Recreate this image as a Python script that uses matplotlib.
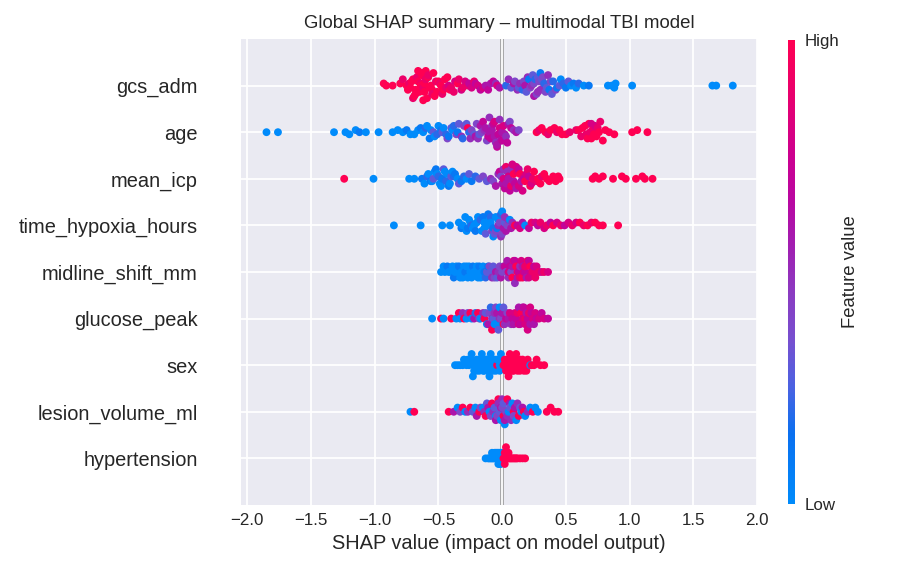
import numpy as np
import matplotlib
matplotlib.use("Agg")
import matplotlib.pyplot as plt
from matplotlib.colors import LinearSegmentedColormap, Normalize

plt.rcParams['font.family'] = ['Liberation Sans', 'DejaVu Sans']

# features top -> bottom
features = ['gcs_adm', 'age', 'mean_icp', 'time_hypoxia_hours', 'midline_shift_mm',
            'glucose_peak', 'sex', 'lesion_volume_ml', 'hypertension']

# (shap value, feature value level 0=low .. 10=high)
gcs_adm = [
    (-0.93, 10), (-0.91, 10), (-0.86, 10), (-0.80, 10), (-0.78, 9),
    (-0.75, 10), (-0.74, 10), (-0.73, 9), (-0.72, 10), (-0.71, 10), (-0.70, 10), (-0.70, 9), (-0.69, 10),
    (-0.68, 10), (-0.68, 10), (-0.67, 9), (-0.66, 10), (-0.66, 10), (-0.65, 10), (-0.64, 9), (-0.64, 10),
    (-0.63, 10), (-0.63, 10), (-0.62, 9), (-0.62, 10), (-0.61, 10), (-0.61, 10), (-0.60, 9), (-0.60, 10),
    (-0.59, 10), (-0.58, 10), (-0.58, 9), (-0.57, 10), (-0.56, 10), (-0.55, 10), (-0.55, 9), (-0.54, 10),
    (-0.53, 10), (-0.52, 9), (-0.51, 10), (-0.50, 10), (-0.49, 9), (-0.48, 10), (-0.47, 9), (-0.46, 10),
    (-0.45, 10), (-0.44, 9), (-0.43, 10), (-0.42, 8), (-0.41, 10), (-0.40, 9), (-0.38, 9), (-0.37, 8),
    (-0.35, 10), (-0.34, 9), (-0.32, 8), (-0.31, 9), (-0.29, 8), (-0.27, 9), (-0.26, 7), (-0.24, 8),
    (-0.22, 9), (-0.21, 7), (-0.19, 8), (-0.17, 7), (-0.15, 8), (-0.13, 6), (-0.11, 7), (-0.09, 6),
    (-0.07, 7), (-0.05, 5), (-0.04, 8), (-0.02, 6),
    (0.03, 2), (0.05, 5), (0.07, 3), (0.09, 6), (0.10, 4), (0.12, 5), (0.13, 3), (0.14, 5), (0.16, 2),
    (0.17, 4), (0.18, 6), (0.19, 3), (0.20, 5), (0.21, 1), (0.22, 4), (0.23, 5), (0.24, 3), (0.25, 4),
    (0.25, 6), (0.26, 2), (0.27, 4), (0.28, 5), (0.28, 3), (0.29, 4), (0.30, 1), (0.30, 5), (0.31, 3),
    (0.32, 4), (0.33, 5), (0.33, 2), (0.34, 4), (0.35, 3), (0.36, 5), (0.37, 1), (0.38, 4), (0.39, 3),
    (0.40, 2), (0.42, 4), (0.43, 1), (0.45, 3), (0.46, 0), (0.48, 2), (0.50, 1), (0.52, 3), (0.54, 0),
    (0.56, 1), (0.58, 0), (0.60, 2), (0.64, 0), (0.68, 1), (0.83, 0), (0.86, 0), (0.88, 0), (0.89, 0),
    (1.02, 0), (1.65, 0), (1.68, 0), (1.81, 0)]

age = [
    (-1.85, 0), (-1.76, 0), (-1.32, 0), (-1.23, 0), (-1.20, 0), (-1.15, 0), (-1.12, 1), (-1.07, 0),
    (-0.97, 0), (-0.86, 0), (-0.82, 0), (-0.78, 0), (-0.75, 1), (-0.72, 0), (-0.69, 0), (-0.66, 0),
    (-0.64, 1), (-0.62, 0), (-0.60, 2), (-0.59, 0), (-0.57, 1), (-0.56, 0), (-0.54, 3), (-0.53, 0),
    (-0.51, 2), (-0.50, 0), (-0.48, 1), (-0.47, 3), (-0.46, 0), (-0.44, 2), (-0.43, 4), (-0.42, 1),
    (-0.40, 3), (-0.39, 0), (-0.38, 2), (-0.36, 4), (-0.35, 1), (-0.34, 3), (-0.32, 5), (-0.31, 2),
    (-0.30, 4), (-0.28, 3), (-0.27, 10), (-0.26, 2), (-0.25, 5), (-0.24, 4), (-0.22, 3), (-0.21, 6),
    (-0.20, 4), (-0.19, 5), (-0.18, 3), (-0.17, 6), (-0.16, 4), (-0.15, 7), (-0.14, 5), (-0.13, 6),
    (-0.12, 4), (-0.11, 7), (-0.10, 5), (-0.10, 6), (-0.09, 7), (-0.08, 5), (-0.08, 6), (-0.07, 7),
    (-0.06, 6), (-0.06, 8), (-0.05, 5), (-0.04, 7), (-0.04, 6), (-0.03, 7), (-0.02, 8), (-0.02, 5),
    (-0.01, 6), (0.00, 7), (0.00, 6), (0.01, 8), (0.02, 6), (0.02, 7), (0.03, 5), (0.04, 7), (0.05, 6),
    (0.06, 4), (0.07, 7), (0.09, 5), (0.11, 6), (0.13, 4),
    (0.27, 10), (0.29, 9), (0.31, 10), (0.34, 10), (0.36, 9), (0.38, 10), (0.41, 10), (0.43, 9),
    (0.45, 10), (0.47, 10), (0.50, 10), (0.53, 9), (0.58, 9), (0.60, 10), (0.62, 9), (0.63, 10),
    (0.65, 10), (0.66, 9), (0.67, 10), (0.68, 10), (0.69, 9), (0.70, 10), (0.70, 8), (0.71, 9),
    (0.72, 10), (0.73, 8), (0.74, 10), (0.75, 9), (0.76, 10), (0.77, 9), (0.79, 10), (0.81, 10),
    (0.84, 10), (0.88, 10), (1.02, 10), (1.06, 10), (1.14, 10)]

mean_icp = [
    (-1.24, 10), (-1.01, 0), (-0.73, 0), (-0.69, 0), (-0.63, 1), (-0.61, 0), (-0.59, 2), (-0.58, 0),
    (-0.56, 1), (-0.55, 0), (-0.54, 3), (-0.53, 0), (-0.52, 1), (-0.51, 0), (-0.50, 2), (-0.49, 0),
    (-0.48, 0), (-0.47, 1), (-0.46, 3), (-0.45, 0), (-0.44, 2), (-0.43, 0), (-0.42, 1), (-0.41, 0),
    (-0.40, 3), (-0.39, 0), (-0.38, 2), (-0.37, 1), (-0.35, 0), (-0.34, 3), (-0.32, 1), (-0.30, 2),
    (-0.28, 0), (-0.26, 3), (-0.24, 1), (-0.21, 2), (-0.18, 3), (-0.15, 4), (-0.12, 3), (-0.09, 5),
    (-0.07, 4), (-0.05, 6), (-0.03, 5), (-0.02, 7), (-0.01, 4), (0.00, 6), (0.01, 8), (0.01, 5),
    (0.02, 7), (0.03, 6), (0.03, 9), (0.04, 5), (0.05, 8), (0.05, 6), (0.06, 7), (0.07, 9), (0.07, 5),
    (0.08, 8), (0.09, 6), (0.09, 10), (0.10, 7), (0.11, 8), (0.11, 6), (0.12, 9), (0.13, 7), (0.13, 8),
    (0.14, 10), (0.15, 6), (0.16, 8), (0.17, 9), (0.17, 7), (0.18, 10), (0.19, 8), (0.20, 9), (0.21, 7),
    (0.22, 10), (0.23, 8), (0.24, 9), (0.25, 10), (0.27, 9), (0.28, 10), (0.30, 10), (0.31, 9),
    (0.33, 10), (0.35, 10), (0.37, 10), (0.40, 10), (0.42, 10), (0.44, 10), (0.45, 10),
    (0.71, 10), (0.73, 10), (0.76, 10), (0.79, 10), (0.87, 10), (0.94, 10), (0.97, 10), (1.05, 10),
    (1.10, 10), (1.12, 10), (1.18, 10)]

time_hypoxia_hours = [
    (-0.85, 0), (-0.64, 0), (-0.47, 0), (-0.41, 0), (-0.34, 0), (-0.32, 1), (-0.31, 0), (-0.29, 0),
    (-0.28, 0), (-0.27, 1), (-0.26, 0), (-0.25, 0), (-0.24, 2), (-0.23, 0), (-0.22, 0), (-0.21, 1),
    (-0.20, 0), (-0.19, 0), (-0.18, 0), (-0.17, 2), (-0.16, 0), (-0.15, 1), (-0.14, 0), (-0.14, 0),
    (-0.13, 3), (-0.12, 0), (-0.11, 1), (-0.11, 0), (-0.10, 0), (-0.09, 2), (-0.09, 0), (-0.08, 4),
    (-0.07, 1), (-0.07, 0), (-0.06, 3), (-0.05, 0), (-0.05, 4), (-0.04, 1), (-0.03, 5), (-0.03, 0),
    (-0.02, 4), (-0.01, 2), (-0.01, 5), (0.00, 0), (0.00, 4), (0.01, 6), (0.02, 3), (0.02, 5),
    (0.03, 6), (0.04, 4), (0.05, 5), (0.06, 0), (0.07, 6), (0.08, 5), (0.10, 10), (0.12, 7), (0.14, 8),
    (0.16, 6), (0.18, 0), (0.21, 7), (0.23, 9), (0.26, 8), (0.28, 7), (0.30, 9), (0.33, 8), (0.35, 9),
    (0.38, 7), (0.40, 10), (0.43, 8), (0.46, 9), (0.49, 7), (0.52, 8), (0.55, 9), (0.58, 8), (0.61, 10),
    (0.64, 9), (0.67, 10), (0.70, 9), (0.73, 10), (0.76, 10), (0.79, 10), (0.91, 10)]

midline_shift_mm = [
    (-0.48, 0), (-0.46, 0), (-0.45, 0), (-0.43, 1), (-0.42, 0), (-0.40, 0), (-0.39, 0), (-0.38, 1),
    (-0.37, 0), (-0.36, 0), (-0.35, 0), (-0.34, 1), (-0.33, 0), (-0.32, 0), (-0.31, 0), (-0.30, 0),
    (-0.29, 1), (-0.28, 0), (-0.27, 0), (-0.26, 0), (-0.25, 0), (-0.24, 0), (-0.23, 1), (-0.22, 0),
    (-0.21, 0), (-0.20, 0), (-0.19, 0), (-0.18, 1), (-0.17, 0), (-0.16, 0), (-0.15, 0), (-0.14, 1),
    (-0.13, 2), (-0.12, 3), (-0.11, 1), (-0.10, 4), (-0.09, 3), (-0.08, 5), (-0.07, 3), (-0.06, 4),
    (-0.05, 6), (-0.04, 3), (-0.03, 5), (-0.02, 4), (-0.01, 6), (0.00, 4), (0.01, 5), (0.02, 7),
    (0.03, 4), (0.04, 6), (0.05, 5), (0.05, 8), (0.06, 7), (0.07, 4), (0.08, 6), (0.08, 10), (0.09, 8),
    (0.10, 5), (0.10, 7), (0.11, 10), (0.12, 6), (0.12, 9), (0.13, 7), (0.14, 9), (0.14, 5), (0.15, 8),
    (0.16, 10), (0.16, 6), (0.17, 8), (0.18, 7), (0.18, 9), (0.19, 6), (0.20, 9), (0.21, 8), (0.21, 7),
    (0.22, 10), (0.23, 8), (0.24, 9), (0.25, 7), (0.26, 9), (0.27, 8), (0.29, 9), (0.31, 8), (0.33, 9),
    (0.36, 8)]

glucose_peak = [
    (-0.55, 0), (-0.48, 10), (-0.46, 0), (-0.40, 10), (-0.36, 0), (-0.34, 10), (-0.33, 0), (-0.31, 5),
    (-0.30, 10), (-0.28, 0), (-0.27, 4), (-0.25, 10), (-0.24, 0), (-0.22, 6), (-0.21, 2), (-0.19, 10),
    (-0.18, 4), (-0.17, 0), (-0.15, 5), (-0.14, 10), (-0.13, 3), (-0.12, 0), (-0.11, 6), (-0.10, 4),
    (-0.09, 2), (-0.08, 5), (-0.08, 10), (-0.07, 3), (-0.06, 0), (-0.06, 5), (-0.05, 4), (-0.04, 0),
    (-0.04, 6), (-0.03, 3), (-0.02, 5), (-0.02, 0), (-0.01, 4), (0.00, 6), (0.01, 3), (0.01, 10),
    (0.02, 5), (0.03, 7), (0.04, 4), (0.05, 6), (0.06, 8), (0.07, 5), (0.08, 7), (0.09, 6), (0.10, 8),
    (0.11, 7), (0.12, 9), (0.13, 6), (0.13, 8), (0.14, 7), (0.15, 10), (0.16, 8), (0.16, 6), (0.17, 7),
    (0.18, 9), (0.18, 8), (0.19, 6), (0.20, 8), (0.20, 7), (0.21, 9), (0.22, 6), (0.22, 8), (0.23, 7),
    (0.24, 8), (0.25, 6), (0.26, 8), (0.27, 7), (0.29, 8), (0.31, 7), (0.33, 8), (0.36, 7)]

sex = [
    (-0.37, 0), (-0.35, 0), (-0.33, 0), (-0.31, 0), (-0.30, 0), (-0.28, 0), (-0.27, 0), (-0.26, 0),
    (-0.25, 0), (-0.24, 0), (-0.24, 0), (-0.23, 0), (-0.22, 0), (-0.22, 0), (-0.21, 0), (-0.20, 0),
    (-0.20, 0), (-0.19, 0), (-0.18, 0), (-0.18, 0), (-0.17, 0), (-0.16, 0), (-0.16, 0), (-0.15, 0),
    (-0.14, 0), (-0.14, 0), (-0.13, 0), (-0.12, 0), (-0.12, 0), (-0.11, 0), (-0.10, 0), (-0.10, 0),
    (-0.09, 0), (-0.08, 0), (-0.08, 0), (-0.07, 0), (-0.06, 0), (-0.06, 0), (-0.05, 0), (-0.04, 10),
    (-0.04, 0), (-0.03, 0), (-0.02, 0), (-0.02, 0), (-0.01, 0), (0.00, 0),
    (0.01, 10), (0.02, 10), (0.02, 10), (0.03, 10), (0.04, 10), (0.04, 10), (0.05, 10), (0.06, 10),
    (0.06, 10), (0.07, 10), (0.08, 10), (0.08, 10), (0.09, 10), (0.10, 10), (0.10, 10), (0.11, 10),
    (0.12, 10), (0.12, 10), (0.13, 10), (0.14, 10), (0.14, 10), (0.15, 10), (0.16, 10), (0.16, 10),
    (0.17, 10), (0.18, 10), (0.19, 10), (0.20, 10), (0.22, 0), (0.23, 10), (0.25, 10), (0.27, 10),
    (0.30, 10), (0.33, 10)]

lesion_volume_ml = [
    (-0.72, 0), (-0.69, 10), (-0.42, 10), (-0.38, 6), (-0.35, 0), (-0.33, 4), (-0.31, 10), (-0.29, 0),
    (-0.27, 5), (-0.25, 10), (-0.23, 3), (-0.21, 0), (-0.20, 6), (-0.18, 10), (-0.17, 4), (-0.15, 0),
    (-0.14, 5), (-0.13, 10), (-0.12, 3), (-0.11, 6), (-0.10, 0), (-0.09, 4), (-0.08, 10), (-0.07, 5),
    (-0.06, 3), (-0.05, 0), (-0.05, 6), (-0.04, 4), (-0.03, 10), (-0.03, 5), (-0.02, 3), (-0.01, 0),
    (-0.01, 6), (0.00, 4), (0.00, 5), (0.01, 10), (0.01, 3), (0.02, 0), (0.02, 6), (0.03, 4), (0.04, 5),
    (0.04, 10), (0.05, 0), (0.06, 6), (0.06, 3), (0.07, 5), (0.08, 0), (0.09, 10), (0.09, 4), (0.10, 6),
    (0.11, 0), (0.12, 5), (0.13, 10), (0.14, 3), (0.15, 0), (0.16, 6), (0.17, 10), (0.18, 0), (0.20, 5),
    (0.22, 0), (0.24, 10), (0.26, 0), (0.28, 0), (0.35, 10), (0.38, 10), (0.41, 10), (0.44, 10)]

hypertension = [
    (-0.13, 0), (-0.11, 0), (-0.10, 0), (-0.09, 0), (-0.08, 0), (-0.08, 0), (-0.07, 0), (-0.06, 0),
    (-0.06, 0), (-0.05, 0), (-0.05, 0), (-0.04, 0), (-0.04, 0), (-0.03, 0), (-0.03, 0), (-0.03, 0),
    (-0.02, 0), (-0.02, 0), (-0.02, 0), (-0.01, 0), (-0.01, 0), (-0.01, 0), (0.00, 0), (0.00, 0),
    (0.01, 10), (0.02, 10), (0.02, 10), (0.03, 10), (0.03, 10), (0.04, 10), (0.04, 10), (0.05, 10),
    (0.05, 10), (0.06, 10), (0.07, 10), (0.08, 10), (0.09, 10), (0.10, 10), (0.11, 10), (0.12, 10),
    (0.14, 10), (0.16, 10), (0.18, 10)]

rows = [gcs_adm, age, mean_icp, time_hypoxia_hours, midline_shift_mm,
        glucose_peak, sex, lesion_volume_ml, hypertension]

# shap-like red/blue colormap
red_blue = LinearSegmentedColormap.from_list('red_blue', [
    (0.0, '#008bfb'), (0.15, '#0a70f0'), (0.25, '#4a62e2'), (0.35, '#7650d0'),
    (0.45, '#8a3cc2'), (0.55, '#a020b2'), (0.65, '#b808a2'), (0.75, '#cc0090'),
    (0.88, '#e8006e'), (1.0, '#ff0052')])

text_col = '#262626'
nbins = 30
row_height = 0.4
rng = np.random.RandomState(0)  # only breaks ties inside a bin, like shap does

fig = plt.figure(figsize=(9.03, 5.76), dpi=100)
ax = fig.add_axes([0.2669, 0.1233, 0.5714, 0.809])
ax.set_facecolor('#EAEAF2')
for sp in ax.spines.values():
    sp.set_visible(False)
ax.set_axisbelow(True)
ax.grid(True, color='white', linewidth=1.3)
ax.axvline(0, color='#999999', linewidth=2.6, zorder=0.3)

n = len(features)
for i, pts in enumerate(rows):
    ypos = n - 1 - i
    shaps = np.array([p[0] for p in pts])
    vals = np.array([p[1] for p in pts]) / 10.0
    # beeswarm offsets (same binning idea as shap.summary_plot)
    quant = np.round(nbins * (shaps - shaps.min()) / (shaps.max() - shaps.min() + 1e-8))
    inds = np.argsort(quant + rng.randn(len(shaps)) * 1e-6)
    ys = np.zeros(len(shaps))
    layer = 0
    last_bin = -1
    for k in inds:
        if quant[k] != last_bin:
            layer = 0
        ys[k] = np.ceil(layer / 2) * ((layer % 2) * 2 - 1)
        layer += 1
        last_bin = quant[k]
    ys *= 0.9 * (row_height / np.max(ys + 1))
    ax.scatter(shaps, ypos + ys, c=vals, cmap=red_blue, vmin=0, vmax=1,
               s=32, linewidths=0, zorder=3)

ax.set_xlim(-2.05, 2.0)
ax.set_ylim(-1, n)
ax.set_xticks(np.arange(-2.0, 2.01, 0.5))
ax.set_yticks(range(n))
ax.set_yticklabels(features[::-1], fontsize=14.4, color=text_col)
ax.tick_params(axis='y', length=0, pad=31)
ax.tick_params(axis='x', length=0, pad=6, labelsize=12.2, labelcolor=text_col)
ax.set_xlabel('SHAP value (impact on model output)', fontsize=14.4, color=text_col, labelpad=4)
ax.set_title('Global SHAP summary – multimodal TBI model', fontsize=13.4, color=text_col, pad=8)

# colorbar
cax = fig.add_axes([0.8727, 0.125, 0.0078, 0.806])
sm = plt.cm.ScalarMappable(cmap=red_blue, norm=Normalize(0, 1))
sm.set_array([])
cb = fig.colorbar(sm, cax=cax, ticks=[0, 1])
cb.set_ticklabels(['Low', 'High'])
cb.ax.tick_params(labelsize=12.2, length=0, pad=7, labelcolor=text_col)
cb.set_label('Feature value', size=13.3, labelpad=2, color=text_col)
cb.outline.set_visible(False)

fig.savefig('out.png', dpi=100)
